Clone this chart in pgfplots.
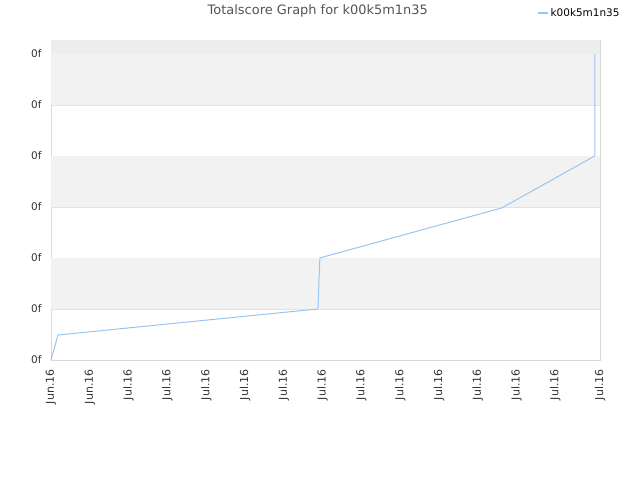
\documentclass[border=0pt]{standalone}
\usepackage{pgfplots}
\pgfplotsset{compat=1.18}
\usepackage{fontspec}
\setmainfont{DejaVu Sans}
\definecolor{linecol}{HTML}{99C5F2}
\definecolor{bandcol}{HTML}{F2F2F2}
\definecolor{topband}{HTML}{EDEDED}
\definecolor{gridcol}{HTML}{E3E3E3}
\definecolor{framecol}{HTML}{D8D8D8}
\definecolor{titlecol}{HTML}{555555}
\definecolor{tickcol}{HTML}{333333}
\begin{document}
\begin{tikzpicture}[x=1bp,y=1bp]
\path[use as bounding box] (0,0) rectangle (640,480);
\begin{axis}[
  at={(51bp,120bp)}, anchor=south west,
  scale only axis, width=549bp, height=320bp,
  xmin=0, xmax=14.15, ymin=0, ymax=6.27,
  axis line style={framecol},
  tick style={draw=none},
  xtick={0,1,2,3,4,5,6,7,8,9,10,11,12,13,14.15},
  xticklabels={Jun.16,Jun.16,Jul.16,Jul.16,Jul.16,Jul.16,Jul.16,Jul.16,Jul.16,Jul.16,Jul.16,Jul.16,Jul.16,Jul.16,Jul.16},
  xticklabel shift=6bp,
  x tick label style={rotate=90, anchor=east, font=\fontsize{11}{13}\selectfont, text=tickcol},
  ytick={0,1,2,3,4,5,6},
  yticklabels={0f,0f,0f,0f,0f,0f,0f},
  yticklabel shift=6bp,
  y tick label style={font=\fontsize{10.5}{12}\selectfont, text=tickcol},
  ymajorgrids, grid style={gridcol, line width=0.6bp},
  legend style={at={(1.045,1.084)}, anchor=east, draw=none, fill=none,
    font=\fontsize{10.5}{12}\selectfont, legend cell align=left},
  legend image code/.code={\draw[linecol, line width=1.5bp] (0bp,0bp) -- (10bp,0bp);},
  clip=false,
]
% alternating horizontal bands
\fill[bandcol] (axis cs:0,1) rectangle (axis cs:14.15,2);
\fill[bandcol] (axis cs:0,3) rectangle (axis cs:14.15,4);
\fill[bandcol] (axis cs:0,5) rectangle (axis cs:14.15,6);
\fill[topband] (axis cs:0,6) rectangle (axis cs:14.15,6.27);
\addplot[linecol, line width=1bp, mark=none] coordinates {
  (0,0) (0.18,0.49) (6.88,1.0) (6.93,2.0) (11.62,2.98) (14.02,4.0) (14.02,6.0)
};
\addlegendentry{k00k5m1n35}
\node[text=titlecol, font=\fontsize{13}{15}\selectfont] at (rel axis cs:0.486,1.09) {Totalscore Graph for k00k5m1n35};
\end{axis}
\end{tikzpicture}
\end{document}
